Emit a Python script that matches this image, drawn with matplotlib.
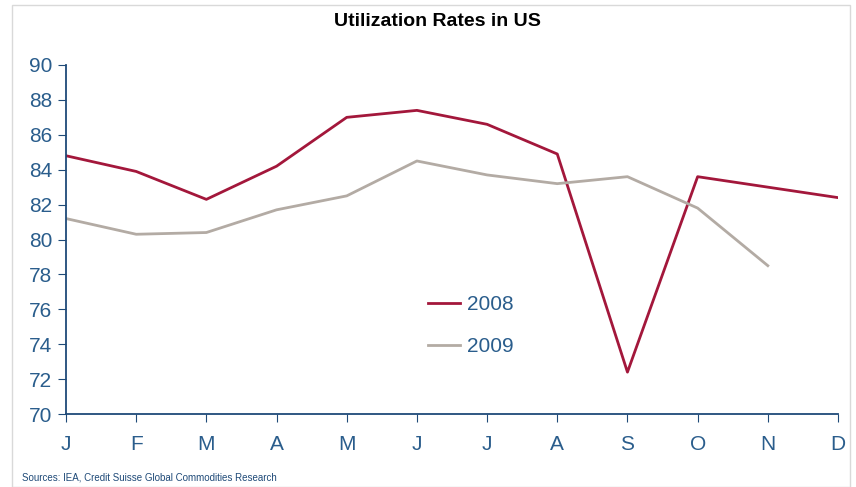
import matplotlib
matplotlib.use("Agg")
import matplotlib.pyplot as plt
from matplotlib.patches import Rectangle

plt.rcParams["font.family"] = ["Liberation Sans", "DejaVu Sans"]

# ── Data ─────────────────────────────────────────────────────────────────────
months = ["J", "F", "M", "A", "M", "J", "J", "A", "S", "O", "N", "D"]
util_2008 = [84.8, 83.9, 82.3, 84.2, 87.0, 87.4, 86.6, 84.9, 72.4, 83.6, 83.0, 82.4]
util_2009 = [81.2, 80.3, 80.4, 81.7, 82.5, 84.5, 83.7, 83.2, 83.6, 81.8, 78.5]
yticks = list(range(70, 91, 2))

AXIS_COL = "#1f4a78"
LABEL_COL = "#2a5d8c"

fig = plt.figure(figsize=(8.56, 4.87), dpi=100)
ax = fig.add_axes([66 / 856, 1 - 414 / 487, (838 - 66) / 856, (414 - 65) / 487])

ax.plot(range(len(util_2008)), util_2008, color="#a3173b", lw=2, label="2008")
ax.plot(range(len(util_2009)), util_2009, color="#b3aba4", lw=2, label="2009")

ax.set_xlim(0, 11)
ax.set_ylim(70, 90)
ax.set_xticks(range(12))
ax.set_xticklabels(months)
ax.set_yticks(yticks)

for side in ["top", "right"]:
    ax.spines[side].set_visible(False)
for side in ["left", "bottom"]:
    ax.spines[side].set_color(AXIS_COL)
    ax.spines[side].set_linewidth(1.3)

ax.tick_params(axis="both", direction="out", length=6, color=AXIS_COL,
               labelcolor=LABEL_COL, labelsize=15)
ax.tick_params(axis="x", pad=9)
ax.tick_params(axis="y", pad=4)

ax.legend(loc="upper left", bbox_to_anchor=(0.445, 0.395), frameon=False,
          fontsize=15, labelcolor=LABEL_COL, handlelength=1.5,
          handletextpad=0.35, labelspacing=1.1)

fig.text(437 / 856, 1 - 22 / 487, "Utilization Rates in US", ha="center",
         va="center", fontsize=14, fontweight="bold", color="black")
fig.text(22 / 856, 1 - 477 / 487,
         "Sources: IEA, Credit Suisse Global Commodities Research",
         ha="left", va="center", fontsize=7, color=AXIS_COL)

# light frame around the chart
fig.patches.append(Rectangle((12 / 856, 0), 838 / 856, 1 - 5 / 487,
                             transform=fig.transFigure, fill=False,
                             edgecolor="#d9d9d9", lw=1))

fig.savefig("out.png", dpi=100)
